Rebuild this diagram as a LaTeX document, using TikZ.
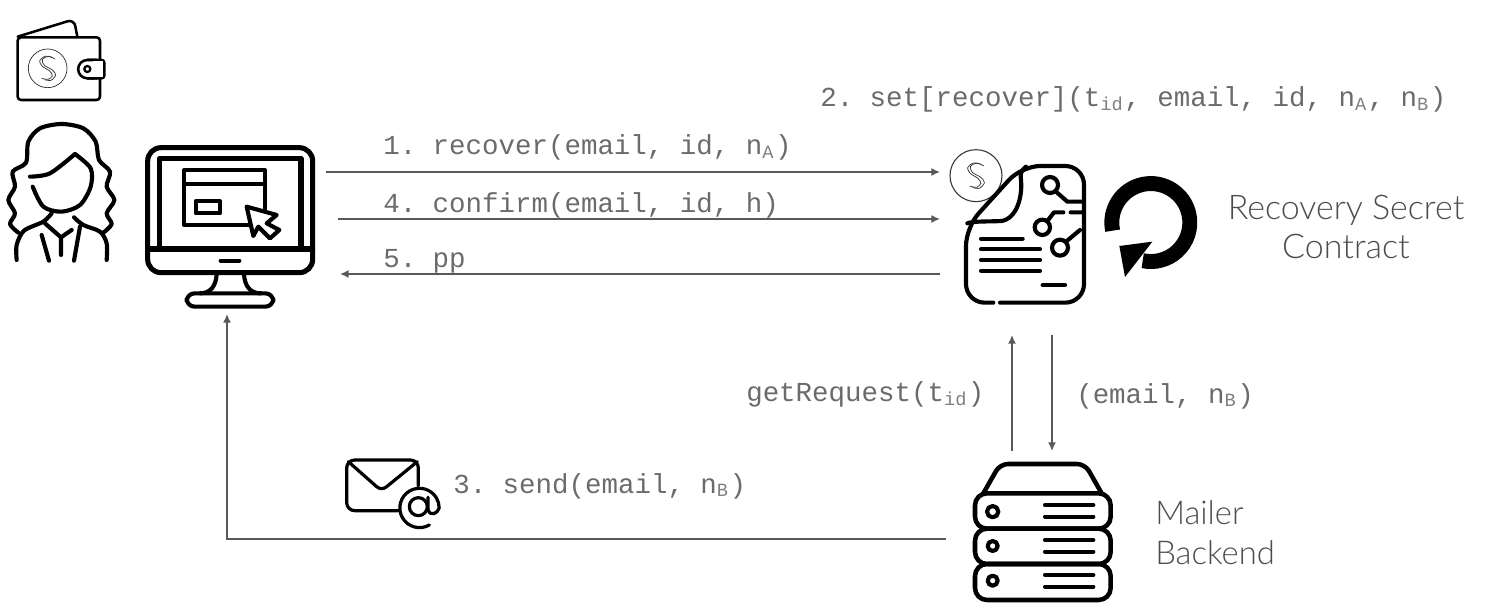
\documentclass[tikz,border=0pt]{standalone}
\usepackage{fontspec}
\setmonofont{Liberation Mono}
\newfontfamily\lightfont{Lato Light}
\newcommand{\sbs}[1]{\raisebox{-0.14em}{\fontsize{14}{14}\selectfont\color{black!50}#1}\kern1.1pt}
\newcommand{\secretS}{%
  \draw[thinstroke] plot[smooth] coordinates {(13,-33) (-8,-36) (-24,-22) (-16,-6) (6,8) (14,22) (2,33) (-18,30)};
  \draw[thinstroke] plot[smooth] coordinates {(22,-28) (2,-36) (-16,-26) (-10,-9) (14,5) (24,20) (10,36) (-10,34)};
}
\tikzset{
  conn/.style={draw=black!65,line width=1.1pt,-{Latex[length=6.5pt,width=6pt]}},
  lab/.style={anchor=base west,inner sep=0pt,font=\ttfamily\fontsize{20.6}{20.6}\selectfont,text=black!58},
  title/.style={inner sep=0pt,font=\lightfont\fontsize{25.5}{25.5}\selectfont,text=black!70},
  shorttitle/.style={title,font=\lightfont\fontsize{24.6}{24.6}\selectfont},
  icon/.style={line width=3.1pt,line cap=round,line join=round,draw=black},
  iconthin/.style={line width=1.9pt,line cap=round,line join=round,draw=black},
  thinstroke/.style={line width=.55pt,draw=black!80},
}
\usetikzlibrary{arrows.meta}
\begin{document}
\begin{tikzpicture}[x=.75pt,y=-.75pt]
\useasboundingbox (0,0) rectangle (1492,609);
% wallet
\begin{scope}[scale=1/3]
  \draw[iconthin,rounded corners=2.5pt] (53,112) -- (53,300) -- (300,300) -- (300,112) -- cycle;
  \draw[iconthin,rounded corners=5pt] (53,110) -- (222,58) -- (232,110);
  \draw[iconthin,fill=white,rounded corners=2pt] (262,180) -- (313,180) -- (313,235) -- (262,235);
  \draw[iconthin,fill=white] (262,180) arc[start angle=270,end angle=90,radius=27.5] -- (290,235) -- (290,180) -- cycle;
  \fill[white] (280,183) rectangle (310,232);
  \draw[line width=1.7pt] (262,207) circle[radius=9];
  \draw[thinstroke] (143,205) circle[radius=58];
  \begin{scope}[shift={(143,205)},scale=1]\secretS\end{scope}
\end{scope}
% woman
\begin{scope}[scale=1/3]
  \draw[icon] plot[smooth] coordinates {(50,780) (50,735) (72,692) (130,665) (155,640)};
  \draw[icon] plot[smooth] coordinates {(222,652) (250,675) (300,695) (320,730) (320,780)};
  \draw[icon] plot[smooth] coordinates {(55,698) (30,672) (45,640) (25,600) (45,560) (38,515) (78,488) (85,425) (120,385) (185,372) (250,385) (287,425) (297,480) (330,515) (320,560) (343,600) (320,640) (335,672) (310,698)};
  \draw[icon] plot[smooth] coordinates {(90,530) (150,520) (225,462)};
  \draw[icon] plot[smooth] coordinates {(225,462) (272,505) (272,560) (240,615) (185,635) (130,620) (98,560)};
  \draw[icon] (125,705) -- (147,782) (183,715) -- (183,765) (240,680) -- (222,782);
  \draw[icon] (135,670) -- (183,712) -- (215,690);
\end{scope}
% monitor
\begin{scope}[scale=1/3]
  \draw[icon,line width=3.8pt,rounded corners=10pt] (443,443) rectangle (938,818);
  \draw[icon,line width=3.8pt] (478,745) -- (478,475) -- (903,475) -- (903,745);
  \draw[icon,line width=3.8pt] (443,747) -- (938,747);
  \draw[icon] (553,510) rectangle (795,675);
  \draw[icon] (553,553) -- (795,553);
  \draw[icon] (587,603) rectangle (660,640);
  \draw[icon,fill=white] (740,620) -- (830,645) -- (800,670) -- (838,690) -- (810,715) -- (775,680) -- (760,708) -- cycle;
  \draw[icon] (662,782) -- (718,782);
  \draw[icon] (650,822) .. controls (648,860) and (630,880) .. (600,880);
  \draw[icon] (732,822) .. controls (734,860) and (752,880) .. (782,880);
  \draw[icon,rounded corners=6pt] (560,880) rectangle (820,920);
\end{scope}
% contract
\begin{scope}[shift={(930,140)},scale=1/3]
  \draw[thinstroke,line width=.8pt] (138,107) circle[radius=78];
  \begin{scope}[shift={(138,107)},scale=1.05]\secretS\end{scope}
  \draw[icon,fill=white,rounded corners=14pt] (190,488) -- (108,488) -- (108,262) -- (275,78) -- (462,78) -- (462,488) -- (210,488);
  \draw[icon] (112,250) .. controls (125,243) and (180,245) .. (215,243) .. controls (260,235) and (280,170) .. (272,110) .. controls (272,95) and (278,88) .. (288,80);
  \draw[icon] (153,296) -- (278,296) (153,328) -- (330,328) (153,360) -- (330,360) (153,392) -- (330,392) (338,435) -- (405,435);
  \draw[icon] (360,135) circle[radius=24];
  \draw[icon] (378,155) -- (412,185) -- (458,185);
  \draw[icon] (337,262) circle[radius=23];
  \draw[icon] (352,243) -- (372,217) -- (400,217) (422,217) -- (458,217);
  \draw[icon] (390,323) circle[radius=24];
  \draw[icon] (408,305) -- (450,270);
  % refresh
  \draw[line width=11.2pt,draw=black] (548,272) arc[start angle=168,end angle=462,radius=117];
  \fill[black] (568,318) -- (667,305) -- (585,411) -- cycle;
\end{scope}
% server
\begin{scope}[shift={(950,440)},scale=1/3]
  \draw[icon,line width=3.4pt,rounded corners=6pt] (100,160) -- (150,72) -- (405,72) -- (455,160);
  \draw[icon,line width=3.4pt,rounded corners=9pt] (75,160) rectangle (482,266);
  \draw[icon,line width=3.4pt,rounded corners=9pt] (75,266) rectangle (482,372);
  \draw[icon,line width=3.4pt,rounded corners=9pt] (75,372) rectangle (482,480);
  \draw[icon] (128,215) circle[radius=17];
  \draw[icon] (128,318) circle[radius=15];
  \draw[icon] (128,422) circle[radius=15];
  \draw[icon] (285,195) -- (430,195) (285,230) -- (430,230) (285,300) -- (430,300) (285,335) -- (430,335) (285,405) -- (430,405) (285,440) -- (430,440);
\end{scope}
% envelope
\begin{scope}[shift={(330,440)},scale=1/3]
  \draw[iconthin,line width=2.4pt,rounded corners=6pt] (205,212) -- (50,212) -- (50,60) -- (265,60) -- (265,138);
  \draw[iconthin,line width=2.4pt] (55,65) -- (140,140) .. controls (150,148) and (160,148) .. (170,140) -- (262,65);
  \draw[iconthin,line width=2.4pt] (298,255) arc[start angle=60,end angle=360,radius=59] .. controls (324,220) and (300,232) .. (294,208) -- (294,172);
  \draw[iconthin,line width=2.4pt] (265,200) circle[radius=27];
\end{scope}
% connector ends
\coordinate (pcA) at (326,172);
\coordinate (scA) at (940,172);
\coordinate (pcB) at (338,219);
\coordinate (scB) at (940,219);
\coordinate (scC) at (940,274);
\coordinate (pcC) at (340,274);
\coordinate (mbUp) at (1012,451);
\coordinate (scUp) at (1012,335);
\coordinate (scDn) at (1052,335);
\coordinate (mbDn) at (1052,451);
\coordinate (mbOut) at (946,539);
\coordinate (bend) at (227,539);
\coordinate (pcD) at (227,314);
\draw[conn] (pcA) -- (scA);
\draw[conn] (pcB) -- (scB);
\draw[conn] (scC) -- (pcC);
\draw[conn] (mbUp) -- (scUp);
\draw[conn] (scDn) -- (mbDn);
\draw[conn] (mbOut) -- (bend) -- (pcD);
% labels
\node[lab] (l2) at (820,107) {2. set[recover](t\sbs{id}, email, id, n\sbs{A}, n\sbs{B})};
\node[lab] (l1) at (383,155) {1. recover(email, id, n\sbs{A})};
\node[lab] (l4) at (383,213) {4. confirm(email, id, h)};
\node[lab] (l5) at (383,268) {5. pp};
\node[lab] (lg) at (746,402) {getRequest(t\sbs{id})};
\node[lab] (le) at (1076,403) {(email, n\sbs{B})};
\node[lab] (l3) at (453,493) {3. send(email, n\sbs{B})};
\node[title,anchor=base] (rs) at (1346,220) {Recovery Secret};
\node[title,anchor=base] (rc) at (1346,259) {Contract};
\node[shorttitle,anchor=base west] (mm) at (1155,524) {Mailer};
\node[shorttitle,anchor=base west] (mb) at (1155,564) {Backend};
\end{tikzpicture}
\end{document}
